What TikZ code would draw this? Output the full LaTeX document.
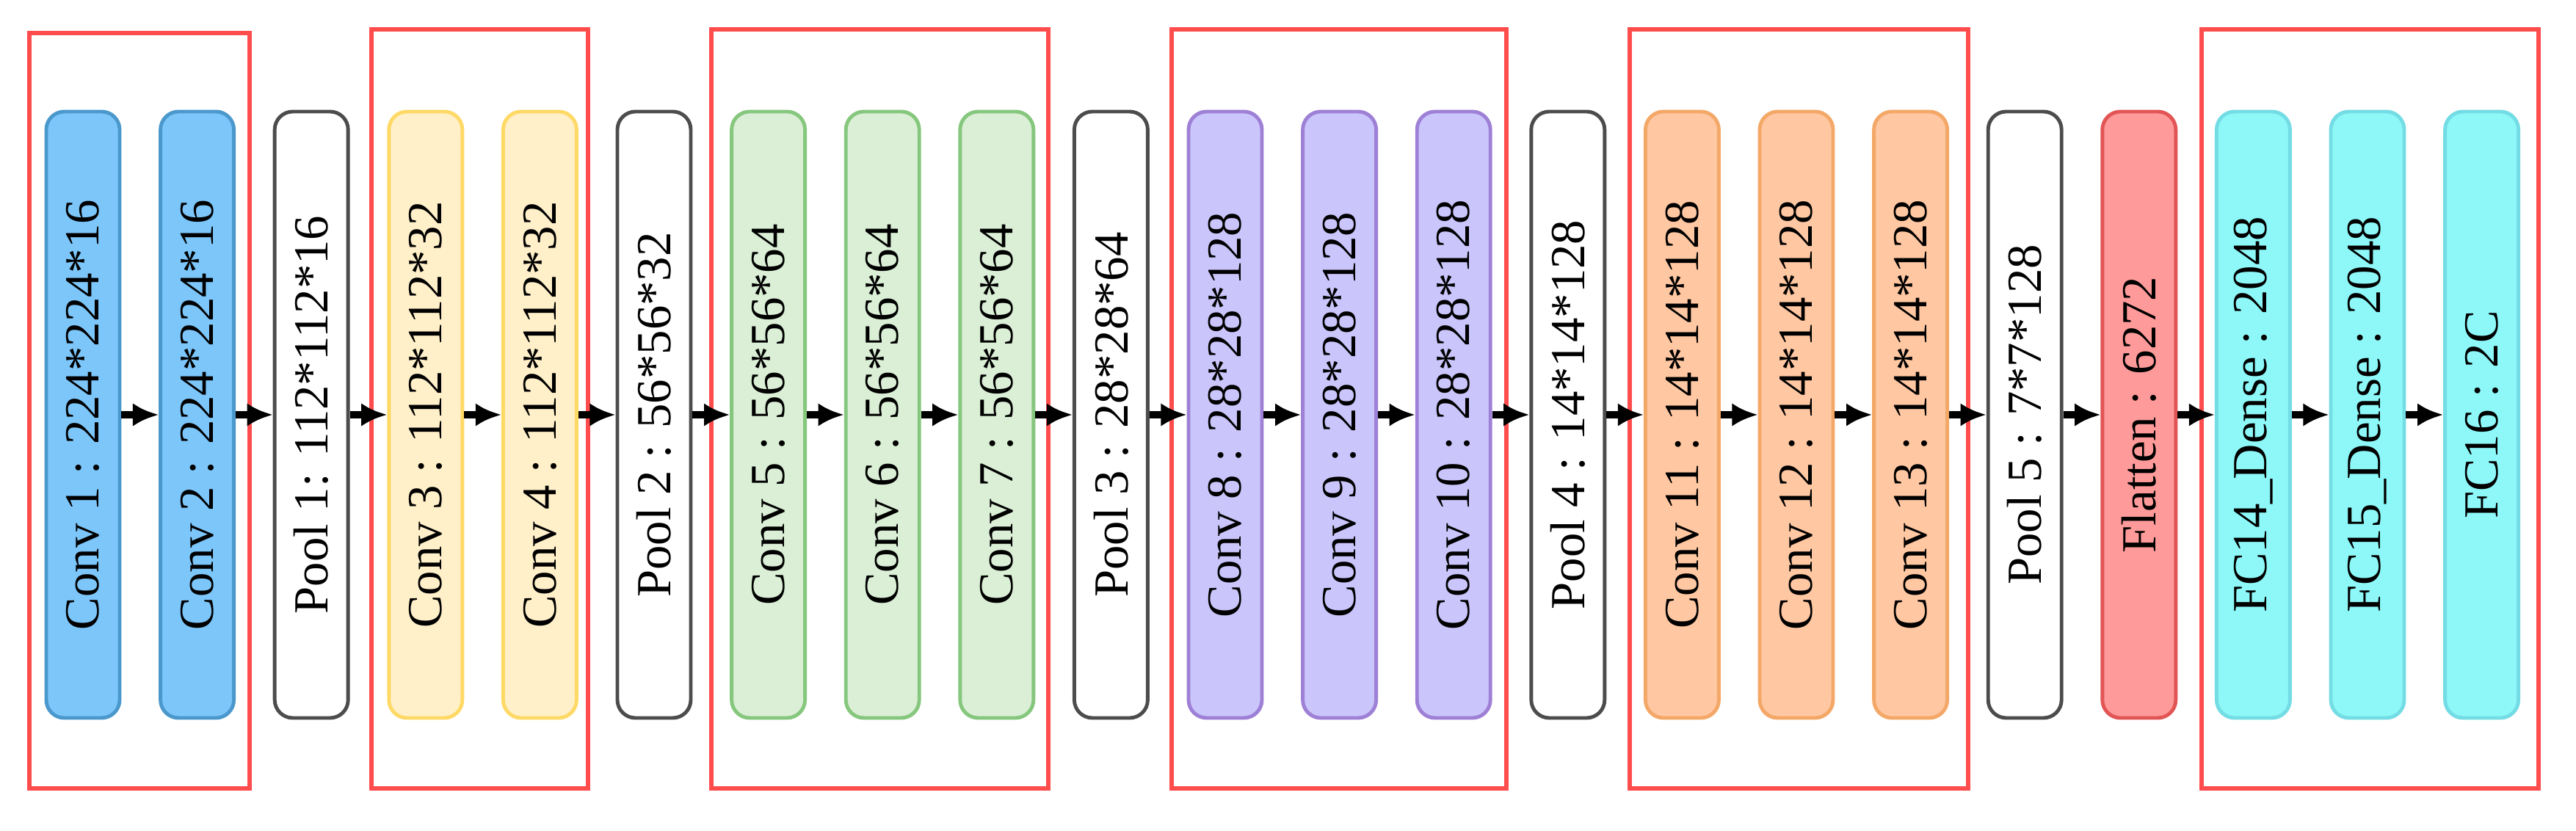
\documentclass[tikz,border=0pt]{standalone}
\usepackage{fontspec}
\setmainfont{Liberation Serif}
\usetikzlibrary{arrows.meta}
\definecolor{bluefill}{HTML}{7DC6FA}\definecolor{blueline}{HTML}{4A98CC}
\definecolor{yelfill}{HTML}{FFF0C9}\definecolor{yelline}{HTML}{FFD966}
\definecolor{grnfill}{HTML}{DAEFD5}\definecolor{grnline}{HTML}{86C77E}
\definecolor{purfill}{HTML}{CAC5FB}\definecolor{purline}{HTML}{9E80D6}
\definecolor{orgfill}{HTML}{FFC7A2}\definecolor{orgline}{HTML}{F4A868}
\definecolor{redfill}{HTML}{FF9A9A}\definecolor{redline}{HTML}{E25555}
\definecolor{cyafill}{HTML}{8EF8F8}\definecolor{cyaline}{HTML}{74DCE4}
\tikzset{
    layer/.style={draw,rounded corners=7pt,line width=1.4pt,minimum width=1cm,
        minimum height=8.26cm,inner sep=0pt,font=\fontsize{19}{21}\selectfont},
    conva/.style={layer,fill=bluefill,draw=blueline},
    convb/.style={layer,fill=yelfill,draw=yelline},
    convc/.style={layer,fill=grnfill,draw=grnline},
    convd/.style={layer,fill=purfill,draw=purline},
    conve/.style={layer,fill=orgfill,draw=orgline},
    pool/.style={layer,fill=white,draw=black!70},
    flat/.style={layer,fill=redfill,draw=redline},
    dense/.style={layer,fill=cyafill,draw=cyaline},
    group/.style={draw=red!70,line width=1.6pt},
    flow/.style={-{Latex[length=10pt,width=9pt]},line width=3pt}
}
\begin{document}
\begin{tikzpicture}
\useasboundingbox (0,0) rectangle (35.09,11.31);

% red group frames
\draw[group] (0.40,0.57) rectangle (3.40,10.86);
\draw[group] (5.06,0.57) rectangle (8.01,10.91);
\draw[group] (9.69,0.57) rectangle (14.28,10.91);
\draw[group] (15.96,0.57) rectangle (20.52,10.91);
\draw[group] (22.20,0.57) rectangle (26.81,10.91);
\draw[group] (29.99,0.57) rectangle (34.58,10.91);

% layers
\foreach \i/\sty/\txt in {
    1/conva/{Conv 1 : 224*224*16},
    2/conva/{Conv 2 : 224*224*16},
    3/pool/{Pool 1: 112*112*16},
    4/convb/{Conv 3 : 112*112*32},
    5/convb/{Conv 4 : 112*112*32},
    6/pool/{Pool 2 : 56*56*32},
    7/convc/{Conv 5 : 56*56*64},
    8/convc/{Conv 6 : 56*56*64},
    9/convc/{Conv 7 : 56*56*64},
    10/pool/{Pool 3 : 28*28*64},
    11/convd/{Conv 8 : 28*28*128},
    12/convd/{Conv 9 : 28*28*128},
    13/convd/{Conv 10 : 28*28*128},
    14/pool/{Pool 4 : 14*14*128},
    15/conve/{Conv 11 : 14*14*128},
    16/conve/{Conv 12 : 14*14*128},
    17/conve/{Conv 13 : 14*14*128},
    18/pool/{Pool 5 : 7*7*128},
    19/flat/{Flatten : 6272},
    20/dense/{FC14\_Dense : 2048},
    21/dense/{FC15\_Dense : 2048},
    22/dense/{FC16 : 2C}}
    \node[\sty] (l\i) at ({1.13+1.556*(\i-1)},5.66) {\rotatebox{90}{\txt}};

% connections
\foreach \i [evaluate=\i as \j using int(\i+1)] in {1,...,21}
    \draw[flow] (l\i.east) -- (l\j.west);

\end{tikzpicture}
\end{document}
